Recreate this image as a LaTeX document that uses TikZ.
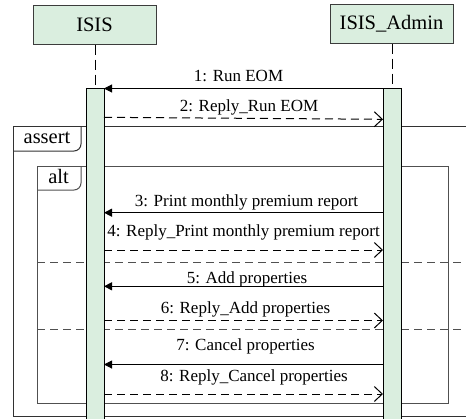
\documentclass[tikz,border=0pt]{standalone}
\usepackage{fontspec}
\setmainfont{Liberation Serif}
\usetikzlibrary{arrows.meta}
\definecolor{actfill}{RGB}{218,238,223}
\definecolor{boxline}{RGB}{60,60,60}
\definecolor{frameline}{RGB}{50,50,50}
\definecolor{altline}{RGB}{80,80,80}
\begin{document}
\begin{tikzpicture}[x=1pt,y=-1pt,
  headbox/.style={draw=boxline,fill=actfill,line width=1pt,minimum width=123pt,
    minimum height=39pt,inner sep=0pt,font=\fontsize{20.5}{24}\selectfont},
  actbar/.style={draw=black,fill=actfill,line width=1pt,minimum width=17.5pt,
    minimum height=340pt,inner sep=0pt,anchor=north},
  lifeline/.style={draw=black,line width=1pt,dash pattern=on 10pt off 5pt},
  call/.style={draw=black,line width=1pt,-{Triangle[length=8pt,width=8pt]}},
  reply/.style={draw=black,line width=1pt,dash pattern=on 8pt off 5pt,
    -{Straight Barb[length=8pt,width=15pt,line width=1pt]}},
  msglabel/.style={anchor=base,inner sep=0pt,font=\fontsize{17}{20}\selectfont},
  framebox/.style={draw=frameline,line width=1pt},
  fragtab/.style={draw=frameline,line width=1pt,rounded corners=7pt},
  fraglabel/.style={anchor=base,inner sep=0pt,font=\fontsize{20.5}{24}\selectfont},
  altbox/.style={draw=altline,line width=1pt},
  divider/.style={draw=altline,line width=1pt,dash pattern=on 8pt off 5pt}]
\useasboundingbox (0,0) rectangle (466,418);
\clip (0,0) rectangle (466,418);

% combined fragments
\draw[framebox] (13,126.7) rectangle (480,416.8);
\draw[fragtab] (81,126.7) -- (81,151) -- (13,151);
\node[fraglabel] (assertlbl) at (47,143.5) {assert};
\draw[altbox] (37,166) rectangle (448,403);
\draw[altbox,rounded corners=7pt] (81,166) -- (81,190) -- (37,190);
\node[fraglabel] (altlbl) at (58.5,183) {alt};
\draw[divider] (37,262.5) -- (470,262.5);
\draw[divider] (37,329.5) -- (470,329.5);

% lifeline heads and activation bars
\node[headbox] (isis) at (94.5,24.5) {ISIS};
\node[headbox] (admin) at (391.5,23.5) {ISIS\_Admin};
\node[actbar] (isisbar) at (95.5,88) {};
\node[actbar,minimum width=18pt] (adminbar) at (392,88) {};
\draw[lifeline] (isisbar.north |- isis.south) -- (isisbar.north);
\draw[lifeline] (adminbar.north |- admin.south) -- (adminbar.north);

% message end points on the activation bars
\coordinate (a1) at (383,88.5);  \coordinate (i1) at (104,88.5);
\coordinate (i2) at (104,117.3); \coordinate (a2) at (383,119.3);
\coordinate (a3) at (383,212.7); \coordinate (i3) at (104,212.7);
\coordinate (i4) at (104,250);   \coordinate (a4) at (383,250);
\coordinate (a5) at (383,286.3); \coordinate (i5) at (104,286.3);
\coordinate (i6) at (104,320.5); \coordinate (a6) at (383,320.5);
\coordinate (a7) at (383,364.5); \coordinate (i7) at (104,364.5);
\coordinate (i8) at (104,394);   \coordinate (a8) at (383,394);

\draw[call] (a1) -- (i1);
\draw[reply] (i2) -- (a2);
\draw[call] (a3) -- (i3);
\draw[reply] (i4) -- (a4);
\draw[call] (a5) -- (i5);
\draw[reply] (i6) -- (a6);
\draw[call] (a7) -- (i7);
\draw[reply] (i8) -- (a8);

\node[msglabel] (l1) at (238.5,81) {1: Run EOM};
\node[msglabel] (l2) at (249,111) {2: Reply\_Run EOM};
\node[msglabel] (l3) at (246.5,206.5) {3: Print monthly premium report};
\node[msglabel] (l4) at (243.5,236.5) {4: Reply\_Print monthly premium report};
\node[msglabel] (l5) at (247,283) {5: Add properties};
\node[msglabel] (l6) at (245.5,313) {6: Reply\_Add properties};
\node[msglabel] (l7) at (245.5,350) {7: Cancel properties};
\node[msglabel] (l8) at (254,381.5) {8: Reply\_Cancel properties};
\end{tikzpicture}
\end{document}
